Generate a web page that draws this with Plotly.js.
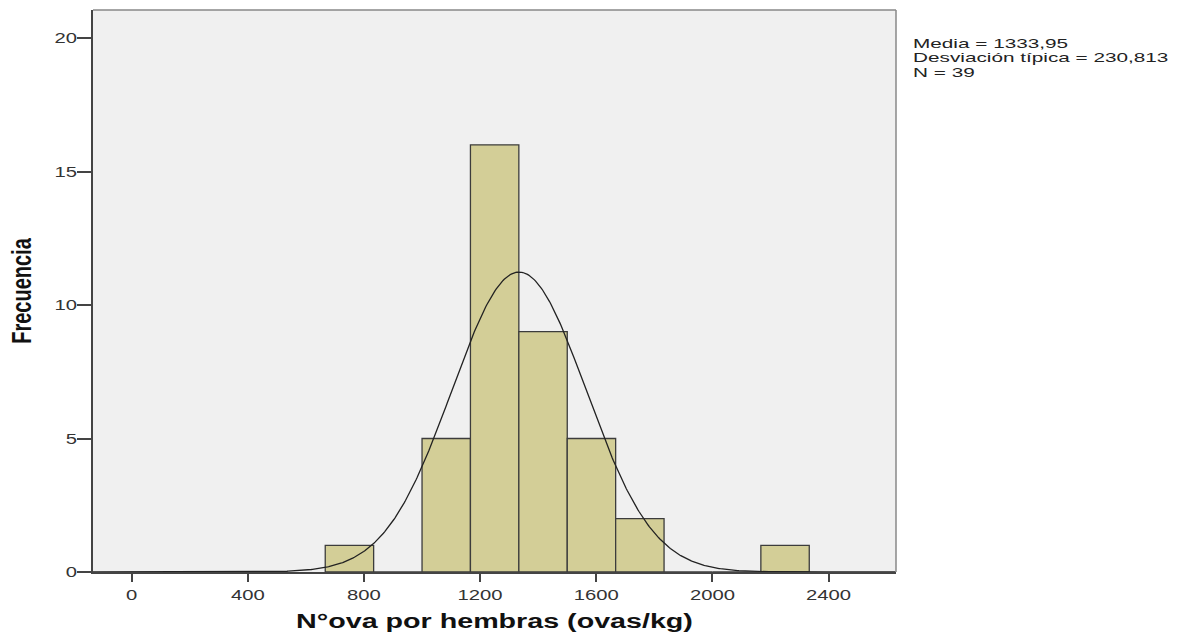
<!DOCTYPE html>
<html>
<head>
<meta charset="utf-8">
<script src="https://cdn.plot.ly/plotly-3.0.1.min.js"></script>
<style>html,body{margin:0;padding:0;background:#fff;}#chart{width:1185px;height:637px;}</style>
</head>
<body>
<div id="chart"></div>
<script>
// Histogram bins (ovas/kg) and frequencies
const binStarts = [666.67, 833.33, 1000, 1166.67, 1333.33, 1500, 1666.67, 1833.33, 2000, 2166.67];
const binWidth = 166.67;
const counts = [1, 0, 5, 16, 9, 5, 2, 0, 0, 1];
// Summary statistics shown in the chart
const mean = 1333.95;
const sd = 230.813;
const n = 39;
const statLabels = ["Media = 1333,95", "Desviación típica = 230,813", "N = 39"];
const xTicks = [0, 400, 800, 1200, 1600, 2000, 2400];
const yTicks = [0, 5, 10, 15, 20];

const xRange = [-133, 2632];
const centers = binStarts.map(s => s + binWidth / 2);

// Fitted normal curve from the stated mean, sd and N
const cx = [], cy = [];
for (let x = xRange[0]; x <= xRange[1]; x += 4) {
  cx.push(x);
  const z = (x - mean) / sd;
  cy.push(n * binWidth * Math.exp(-0.5 * z * z) / (sd * Math.sqrt(2 * Math.PI)));
}

const font = "Liberation Sans, Arial, sans-serif";

const traces = [
  {
    type: "bar",
    x: centers,
    y: counts,
    width: binWidth,
    marker: {color: "#D3CE97", line: {color: "#3c3c3c", width: 1.3}},
    hoverinfo: "x+y"
  },
  {
    type: "scatter",
    mode: "lines",
    x: cx,
    y: cy,
    line: {color: "#222", width: 1.3},
    hoverinfo: "skip"
  }
];

const annY = [44, 58.5, 73];
const annotations = statLabels.map((t, i) => ({
  text: t,
  xref: "paper", yref: "paper",
  x: (911 - 93) / 803,
  y: (572 - annY[i]) / 562,
  xanchor: "left", yanchor: "middle",
  showarrow: false,
  font: {family: font, size: 12, color: "#222"}
}));

const layout = {
  width: 1185, height: 637,
  margin: {l: 93, r: 289, t: 10, b: 65},
  paper_bgcolor: "#ffffff",
  plot_bgcolor: "#F0F0F0",
  showlegend: false,
  bargap: 0,
  xaxis: {
    range: xRange,
    tickvals: xTicks,
    ticktext: xTicks.map(String),
    ticks: "outside", ticklen: 8, tickwidth: 2, tickcolor: "#444",
    showline: true, linecolor: "#444", linewidth: 2,
    showgrid: false, zeroline: false,
    tickfont: {family: font, size: 15, color: "#333"},
    title: {text: "N°ova por hembras (ovas/kg)", font: {family: font, size: 20, color: "#111", weight: "bold"}, standoff: 12}
  },
  yaxis: {
    range: [0, 21.05],
    tickvals: yTicks,
    ticktext: yTicks.map(String),
    ticks: "outside", ticklen: 14, tickwidth: 2, tickcolor: "#444",
    showline: true, linecolor: "#444", linewidth: 2,
    showgrid: false, zeroline: false,
    tickfont: {family: font, size: 15, color: "#333"},
    title: {text: "Frecuencia", font: {family: font, size: 20, color: "#111", weight: "bold"}, standoff: 14}
  },
  shapes: [
    {type: "line", xref: "paper", yref: "paper", x0: 0, x1: 1, y0: 1, y1: 1, line: {color: "#888", width: 1.5}},
    {type: "line", xref: "paper", yref: "paper", x0: 1, x1: 1, y0: 0, y1: 1, line: {color: "#888", width: 1.5}}
  ],
  annotations: annotations
};

// The reference picture is horizontally stretched; widen the text glyphs to match.
function stretch(el, s, mode) {
  const r = el.getBoundingClientRect();
  const ax = mode === "left" ? r.left : mode === "right" ? r.right : (r.left + r.right) / 2;
  const pm = el.parentNode.getScreenCTM();
  const px = ax - pm.e;
  const old = el.getAttribute("transform") || "";
  el.setAttribute("transform", `translate(${px},0) scale(${s},1) translate(${-px},0) ${old}`);
}
function shift(el, dx, dy) {
  const old = el.getAttribute("transform") || "";
  el.setAttribute("transform", `translate(${dx},${dy}) ${old}`);
}

Plotly.newPlot("chart", traces, layout, {displayModeBar: false, staticPlot: true}).then(gd => {
  const tickScale = 1.35;
  gd.querySelectorAll(".xtick text").forEach(t => stretch(t, tickScale, "center"));
  gd.querySelectorAll(".ytick text").forEach(t => { stretch(t, tickScale, "right"); shift(t, 3, 0); });

  const ann = gd.querySelectorAll(".annotation-text");
  if (ann.length === 3) {
    const w2 = ann[1].getBoundingClientRect().width;
    const s = 256 / w2;
    ann.forEach(t => stretch(t, s, "left"));
  }

  const xt = gd.querySelector(".xtitle");
  if (xt) {
    const s = 397 / xt.getBoundingClientRect().width;
    stretch(xt, s, "center");
    const r = xt.getBoundingClientRect();
    shift(xt, 494.5 - (r.left + r.right) / 2, 0);
  }
  const yt = gd.querySelector(".ytitle");
  if (yt) {
    stretch(yt, 1.37, "center");
    const r = yt.getBoundingClientRect();
    shift(yt, 21.5 - (r.left + r.right) / 2, 0);
  }
});
</script>
</body>
</html>
